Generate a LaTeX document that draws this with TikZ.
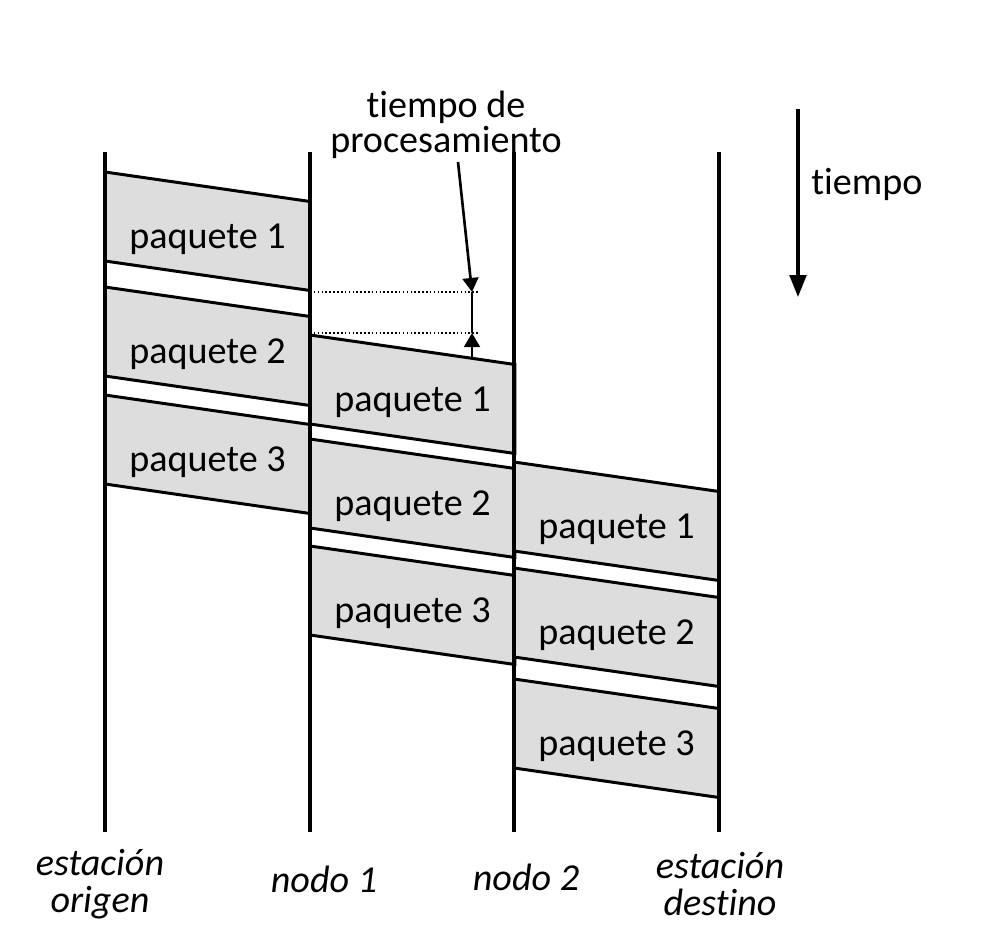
\documentclass[tikz,border=0pt]{standalone}
\usepackage{fontspec}
\setmainfont{Carlito}[Ligatures=NoCommon]
\usetikzlibrary{arrows.meta}
\definecolor{tpink}{HTML}{000000}
\definecolor{tpgray}{HTML}{DDDDDD}
\tikzset{
  tp text/.style={font=\fontsize{21.7}{20}\selectfont, text=tpink, align=center, inner sep=0pt},
  tp station/.style={tp text, font=\fontsize{21.7}{21}\selectfont\itshape},
  tp line/.style={draw=tpink, line width=1.8pt},
  tp packet/.style={draw=tpink, line width=1.7pt, fill=tpgray, line join=miter},
  tp dots/.style={draw=tpink, line width=0.9pt, dash pattern=on 0.9pt off 1.3pt},
  tp arrow/.style={-{Triangle[length=12.5pt,width=9.5pt]}, draw=tpink, line width=1.8pt},
  tp small arrow/.style={-{Triangle[length=8pt,width=9pt]}, draw=tpink, line width=1.5pt}
}

\begin{document}
\begin{tikzpicture}[x=0.02cm, y=-0.02cm]
  \useasboundingbox (0,0) rectangle (981,947);
  % stations
  \foreach \x/\nm in {105/origen, 310/nodoa, 514/nodob, 719/destino}{
    \coordinate (\nm top) at (\x,152);
    \coordinate (\nm bot) at (\x,832);
  }
  % packets
  \foreach \x/\y/\n/\nm in {105/172/1/origen, 105/287/2/origen, 105/395/3/origen,
      310/335/1/nodoa, 310/439/2/nodoa, 310/546/3/nodoa,
      514/462/1/nodob, 514/568/2/nodob, 514/679/3/nodob}{
    \draw[tp packet] (\x,\y) -- ++(205,29.5) -- ++(0,89) -- ++(-205,-29.5) -- cycle;
    \node[tp text] (\nm\n) at (\x+102.5,\y+67) {paquete \n};
  }
  \foreach \nm in {origen, nodoa, nodob, destino}
    \draw[tp line] (\nm top) -- (\nm bot);
  \node[tp station] (origen) at (100,884) {estación\\origen};
  \node[tp station] (nodoa) at (324,879) {nodo 1};
  \node[tp station] (nodob) at (526,877) {nodo 2};
  \node[tp station] (destino) at (720,884) {estación\\destino};
  % processing time
  \coordinate (procA) at (310,292);
  \coordinate (procB) at (472,292);
  \coordinate (procC) at (310,333);
  \coordinate (procD) at (472,333);
  \coordinate (procE) at (472,358);
  \draw[tp dots] (procA) -- (procB) -- +(8,0);
  \draw[tp dots] (procC) -- (procD) -- +(8,0);
  \node[tp text] (proc) at (446,125) {tiempo de\\procesamiento};
  \coordinate (procfoot) at (458,162);
  \draw[tp small arrow] (procfoot) -- (procB);
  \draw[tp line, line width=1.5pt] (procB) -- (procD);
  \draw[tp small arrow] (procE) -- (procD);
  % time axis
  \coordinate (ttop) at (798,109);
  \coordinate (tbot) at (798,297);
  \draw[tp arrow] (ttop) -- (tbot);
  \node[tp text, anchor=west] (tlabel) at (811,184) {tiempo};
\end{tikzpicture}
\end{document}
